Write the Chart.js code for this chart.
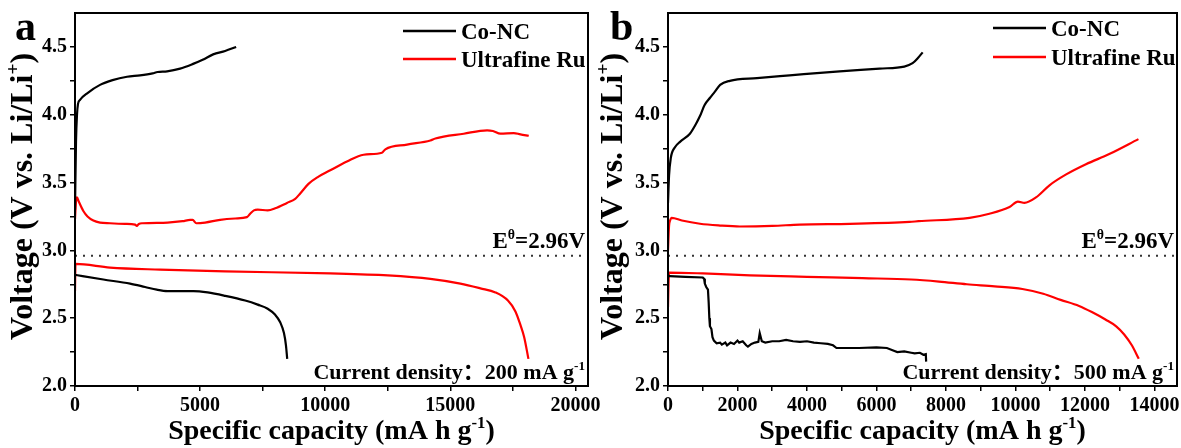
<!DOCTYPE html>
<html>
<head>
<meta charset="utf-8">
<script src="https://cdn.jsdelivr.net/npm/chart.js@4.4.0/dist/chart.umd.min.js"></script>
<style>
    body { margin: 0; background: #fff; }
    .panel { position: absolute; top: 0; height: 448px; }
    #wrapA { left: 0; width: 620px; }
    #wrapB { left: 590px; width: 591px; }
</style>
</head>
<body>
<div class="panel" id="wrapA"><canvas id="chartA" width="620" height="448"></canvas></div>
<div class="panel" id="wrapB"><canvas id="chartB" width="591" height="448"></canvas></div>
<script>
/* Discharge / charge profiles, [capacity mA h g-1, voltage V] */
var materials = ["Co-NC", "Ultrafine Ru"];
var materialColors = ["#000000", "#ff0000"];
var E0 = 2.96; // Li/Li+ equilibrium potential line

// tick positions (labels only on the majors)
var xTicksA = [0, 2500, 5000, 7500, 10000, 12500, 15000, 17500, 20000];
var xTicksB = [0, 1000, 2000, 3000, 4000, 5000, 6000, 7000, 8000, 9000, 10000, 11000, 12000, 13000, 14000];
var yTicks = [2.0, 2.25, 2.5, 2.75, 3.0, 3.25, 3.5, 3.75, 4.0, 4.25, 4.5];

// panel a : 200 mA g-1
var conDischargeA = [[0, 2.82], [300, 2.81], [1133, 2.785], [2200, 2.755], [2800, 2.73], [3267, 2.71], [3700, 2.70], [4733, 2.70],
    [5300, 2.69], [6000, 2.665], [6800, 2.63], [7300, 2.60], [7700, 2.57], [8000, 2.525], [8200, 2.47], [8350, 2.39], [8430, 2.30], [8480, 2.2]];
var conChargeA = [[0, 3.3], [40, 3.8], [80, 4.0], [120, 4.08], [200, 4.11], [500, 4.16], [1000, 4.22], [1500, 4.255], [2080, 4.28],
    [2600, 4.29], [3100, 4.305], [3300, 4.315], [3680, 4.32], [4200, 4.34], [4720, 4.375], [5100, 4.405], [5520, 4.445], [6000, 4.47], [6440, 4.5]];
var ruDischargeA = [[0, 2.70], [20, 2.90], [1400, 2.873], [3400, 2.858], [6000, 2.845], [10200, 2.83], [12500, 2.815], [14200, 2.79],
    [15400, 2.755], [16200, 2.72], [16800, 2.69], [17300, 2.63], [17600, 2.55], [17800, 2.45], [17950, 2.36], [18120, 2.2]];
var ruChargeA = [[0, 3.23], [40, 3.36], [80, 3.39], [150, 3.36], [333, 3.29], [500, 3.25], [733, 3.22], [1000, 3.205], [1400, 3.20],
    [2000, 3.195], [2400, 3.19], [2470, 3.18], [2550, 3.195], [2700, 3.20], [3700, 3.205], [4300, 3.215], [4600, 3.225], [4700, 3.225],
    [4850, 3.20], [5200, 3.205], [5800, 3.225], [6400, 3.235], [6870, 3.245], [7000, 3.27], [7150, 3.295], [7300, 3.30], [7700, 3.295],
    [8000, 3.31], [8470, 3.35], [8800, 3.38], [9000, 3.42], [9330, 3.49], [9700, 3.54], [10200, 3.59], [10867, 3.655], [11533, 3.705],
    [12267, 3.72], [12400, 3.745], [13267, 3.78], [14200, 3.81], [14400, 3.825], [15533, 3.86], [16467, 3.885], [16700, 3.88],
    [17000, 3.86], [17533, 3.865], [17800, 3.855], [18133, 3.845]];

// panel b : 500 mA g-1
var conDischargeB = [[0, 2.81], [50, 2.81], [500, 2.805], [1000, 2.80], [1040, 2.79], [1060, 2.755], [1100, 2.73], [1150, 2.71],
    [1170, 2.62], [1190, 2.50], [1207, 2.44], [1250, 2.42], [1280, 2.36], [1320, 2.335], [1400, 2.315], [1500, 2.32], [1550, 2.305],
    [1650, 2.32], [1700, 2.30], [1800, 2.32], [1900, 2.31], [2000, 2.335], [2050, 2.32], [2150, 2.33], [2250, 2.30], [2300, 2.29],
    [2400, 2.31], [2500, 2.32], [2600, 2.325], [2640, 2.39], [2700, 2.33], [2800, 2.32], [3000, 2.33], [3200, 2.33], [3400, 2.34],
    [3600, 2.33], [3800, 2.325], [4000, 2.33], [4200, 2.32], [4400, 2.315], [4600, 2.31], [4750, 2.30], [4850, 2.28], [5000, 2.28],
    [5500, 2.28], [6000, 2.285], [6300, 2.28], [6500, 2.26], [6600, 2.25], [6800, 2.255], [7000, 2.245], [7100, 2.24], [7250, 2.245],
    [7350, 2.23], [7420, 2.235], [7430, 2.18]];
var conChargeB = [[0, 3.35], [30, 3.55], [80, 3.68], [200, 3.76], [345, 3.80], [630, 3.86], [800, 3.93], [920, 3.99], [1050, 4.07],
    [1210, 4.125], [1350, 4.17], [1500, 4.22], [1780, 4.25], [2560, 4.27], [3500, 4.29], [4940, 4.32], [6090, 4.34], [6800, 4.355],
    [7040, 4.38], [7200, 4.42], [7330, 4.46]];
var ruDischargeB = [[0, 2.58], [15, 2.75], [30, 2.836], [1000, 2.83], [2360, 2.816], [4000, 2.805], [5600, 2.795], [7000, 2.785],
    [7800, 2.77], [8600, 2.75], [9400, 2.735], [10200, 2.715], [10800, 2.68], [11300, 2.635], [11830, 2.59], [12200, 2.545],
    [12590, 2.49], [12900, 2.44], [13130, 2.38], [13350, 2.30], [13550, 2.2]];
var ruChargeB = [[0, 3.0], [30, 3.18], [60, 3.22], [106, 3.24], [400, 3.22], [920, 3.196], [1500, 3.183], [2070, 3.176], [3000, 3.18],
    [3790, 3.19], [5230, 3.196], [6950, 3.21], [7210, 3.215], [8680, 3.24], [9250, 3.27], [9830, 3.32], [10070, 3.36], [10260, 3.35],
    [10590, 3.39], [10980, 3.48], [11460, 3.56], [12030, 3.635], [12700, 3.71], [13540, 3.82]];

var serif = "'Liberation Serif', 'Times New Roman', 'Noto Sans CJK SC', serif";
function bold(size) { return "bold " + size + "px " + serif; }

function toXY(arr) {
    return arr.map(function (p) { return { x: p[0], y: p[1] }; });
}

// text with superscript parts, parts = [{t, sup}]
function drawRich(ctx, parts, x, y, size, align) {
    var total = 0;
    parts.forEach(function (p) {
        ctx.font = bold(p.sup ? size * 0.6 : size);
        p.w = ctx.measureText(p.t).width;
        total += p.w;
    });
    var cx = x;
    if (align === "center") cx = x - total / 2;
    if (align === "right") cx = x - total;
    ctx.textAlign = "left";
    parts.forEach(function (p) {
        ctx.font = bold(p.sup ? size * 0.6 : size);
        ctx.fillText(p.t, cx, p.sup ? y - size * 0.4 : y);
        cx += p.w;
    });
}

var decorPlugin = {
    id: "decor",
    afterDraw: function (chart, args, opts) {
        var ctx = chart.ctx;
        var area = chart.chartArea;
        ctx.save();
        // frame round the plot
        ctx.strokeStyle = "#000";
        ctx.lineWidth = 2;
        ctx.strokeRect(area.left, area.top, area.right - area.left, area.bottom - area.top);

        ctx.fillStyle = "#000";
        ctx.textBaseline = "alphabetic";
        ctx.font = bold(42);
        ctx.fillText(opts.letter, opts.letterX, 40);

        drawRich(ctx, [{ t: "Specific capacity (mA h g" }, { t: "-1", sup: true }, { t: ")" }],
            (area.left + area.right) / 2, 439, 28, "center");

        ctx.save();
        ctx.translate(32, (area.top + area.bottom) / 2 - 3);
        ctx.rotate(-Math.PI / 2);
        drawRich(ctx, [{ t: "Voltage (V vs. Li/Li" }, { t: "+", sup: true }, { t: ")" }], 0, 0, 32, "center");
        ctx.restore();

        // key
        for (var i = 0; i < materials.length; i++) {
            var ly = opts.keyY[i];
            ctx.strokeStyle = materialColors[i];
            ctx.lineWidth = 2.5;
            ctx.beginPath();
            ctx.moveTo(403, ly);
            ctx.lineTo(456, ly);
            ctx.stroke();
            ctx.font = bold(23);
            ctx.textAlign = "left";
            ctx.fillText(materials[i], 461, ly + 7.5);
        }

        var yE = chart.scales.y.getPixelForValue(E0);
        drawRich(ctx, [{ t: "E" }, { t: "\u03b8", sup: true }, { t: "=" + E0.toFixed(2) + "V" }],
            area.right - 3, yE - 8, 23, "right");

        drawRich(ctx, [{ t: "Current density\uff1a" + opts.rate + " mA g" }, { t: "-1", sup: true }],
            area.right - 3, 379, 22, "right");
        ctx.restore();
    }
};

function tickObjects(values) {
    return values.map(function (v) { return { value: v }; });
}

function makePanel(id, o) {
    var datasets = [];
    o.series.forEach(function (s) {
        datasets.push({
            label: materials[s.m],
            data: toXY(s.data),
            borderColor: materialColors[s.m],
            borderWidth: 2.2,
            pointRadius: 0,
            cubicInterpolationMode: s.noisy ? "default" : "monotone",
            tension: 0
        });
    });
    datasets.push({
        label: "E0",
        data: [{ x: 0, y: E0 }, { x: o.xMax, y: E0 }],
        borderColor: "#333",
        borderWidth: 2,
        borderDash: [2, 6],
        pointRadius: 0
    });

    return new Chart(document.getElementById(id), {
        type: "line",
        data: { datasets: datasets },
        plugins: [decorPlugin],
        options: {
            responsive: false,
            animation: false,
            layout: { padding: { top: 13, right: o.padRight, left: 0, bottom: 0 } },
            plugins: {
                legend: { display: false },
                tooltip: { enabled: false },
                decor: { letter: o.letter, letterX: o.letterX, keyY: o.keyY, rate: o.rate }
            },
            scales: {
                x: {
                    type: "linear",
                    min: 0,
                    max: o.xMax,
                    afterFit: function (scale) {
                        scale.height = 62;
                        // end labels may hang past the frame
                        scale.paddingLeft = 0;
                        scale.paddingRight = 0;
                    },
                    afterBuildTicks: function (scale) { scale.ticks = tickObjects(o.xTicks); },
                    ticks: {
                        autoSkip: false,
                        maxRotation: 0,
                        padding: 3,
                        color: "#000",
                        font: { family: serif, size: 20, weight: "bold" },
                        callback: function (v) { return v % o.xMajor === 0 ? String(v) : ""; }
                    },
                    grid: { drawOnChartArea: false, tickLength: 5, color: "#000", lineWidth: 1.5 },
                    border: { display: false }
                },
                y: {
                    min: 2.0,
                    max: 4.75,
                    afterFit: function (scale) {
                        scale.width = o.yWidth;
                        scale.paddingTop = 0;
                        scale.paddingBottom = 0;
                    },
                    afterBuildTicks: function (scale) { scale.ticks = tickObjects(yTicks); },
                    ticks: {
                        autoSkip: false,
                        padding: 3,
                        color: "#000",
                        font: { family: serif, size: 20, weight: "bold" },
                        callback: function (v) {
                            return Math.abs(v * 2 - Math.round(v * 2)) < 1e-6 ? v.toFixed(1) : "";
                        }
                    },
                    grid: { drawOnChartArea: false, tickLength: 5, color: "#000", lineWidth: 1.5 },
                    border: { display: false }
                }
            }
        }
    });
}

makePanel("chartA", {
    letter: "a", letterX: 15, rate: 200, keyY: [31, 59],
    xMax: 20500, xTicks: xTicksA, xMajor: 5000, yWidth: 75, padRight: 32,
    series: [
        { m: 0, data: conChargeA }, { m: 0, data: conDischargeA },
        { m: 1, data: ruChargeA }, { m: 1, data: ruDischargeA }
    ]
});

makePanel("chartB", {
    letter: "b", letterX: 20, rate: 500, keyY: [28, 57],
    xMax: 14650, xTicks: xTicksB, xMajor: 2000, yWidth: 78, padRight: 4,
    series: [
        { m: 0, data: conChargeB }, { m: 0, data: conDischargeB, noisy: true },
        { m: 1, data: ruChargeB }, { m: 1, data: ruDischargeB }
    ]
});
</script>
</body>
</html>
